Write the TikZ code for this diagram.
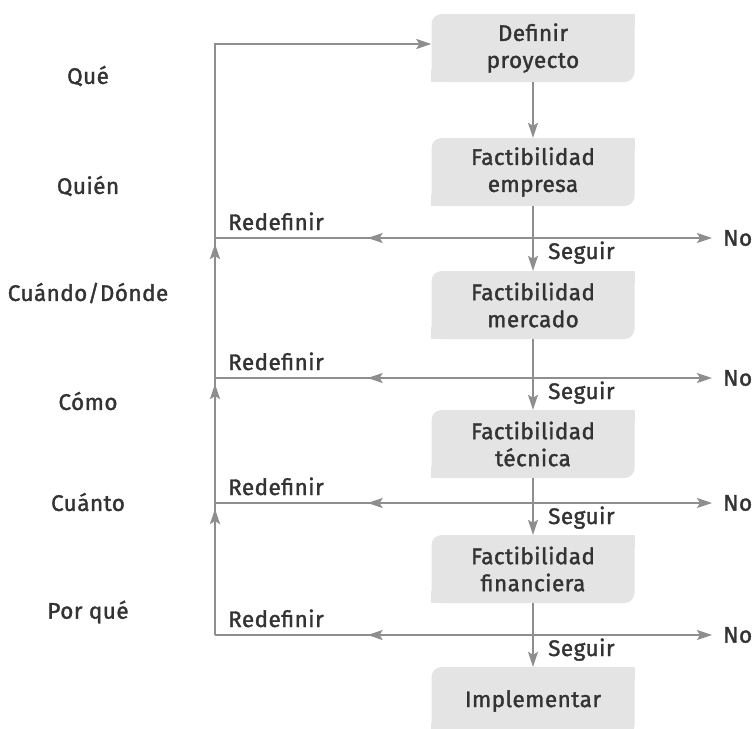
\documentclass[tikz,border=0pt]{standalone}
\usepackage{fontspec}
\setmainfont{Fira Sans}[LetterSpace=2, FakeBold=1.5]
\usepackage{tikz}
\usetikzlibrary{positioning,arrows.meta,decorations.markings}
\definecolor{sgray}{HTML}{8E8E8E}
\definecolor{sfill}{HTML}{E4E4E4}
\definecolor{stext}{HTML}{333333}

\begin{document}
\begin{tikzpicture}[x=1pt, y=-1pt,
  stage/.style={rectangle, rounded corners=10pt, fill=sfill, text=stext, align=center,
    font=\fontsize{22.5}{27}\selectfont, minimum width=203pt, minimum height=68pt, inner sep=0pt},
  lbl/.style={text=stext, font=\fontsize{22.5}{27}\selectfont, inner sep=0pt},
  arr/.style={-{Stealth[length=15pt, width=10pt, inset=3pt]}, line width=1.6pt, color=sgray},
  hline/.style={line width=1.6pt, color=sgray,
    postaction={decorate, decoration={markings,
      mark=at position 0.52 with {\arrow{Stealth[length=15pt, width=10pt, inset=3pt]}}}}},
  vline/.style={line width=2.4pt, color=sgray}
]
\useasboundingbox (0,0) rectangle (754,728);

% stages
\node[stage] (def) at (533,48)  {Definir\\proyecto};
\node[stage] (emp) at (533,172) {Factibilidad\\empresa};
\node[stage] (mer) at (533,305) {Factibilidad\\mercado};
\node[stage] (tec) at (533,444) {Factibilidad\\técnica};
\node[stage] (fin) at (533,569) {Factibilidad\\financiera};
\node[stage] (imp) at (533,701) {Implementar};

% square corners (top right, bottom left)
\foreach \n in {def,emp,mer,tec,fin,imp} {
  \fill[sfill] ([xshift=-12pt,yshift=-12pt]\n.north east) rectangle (\n.north east);
  \fill[sfill] (\n.south west) rectangle ([xshift=12pt,yshift=12pt]\n.south west);
}

% questions
\node[lbl] (q1) at (88,76)  {Qué};
\node[lbl] (q2) at (88,186) {Quién};
\node[lbl] (q3) at (88,293) {Cuándo/Dónde};
\node[lbl] (q4) at (88,401) {Cómo};
\node[lbl] (q5) at (88,502) {Cuánto};
\node[lbl] (q6) at (88,612) {Por qué};

% decision lines
\foreach \i/\y in {1/238,2/378,3/503,4/635} {
  \coordinate (jl\i) at (215,\y);
  \coordinate (jc\i) at (533,\y);
  \node[lbl, anchor=west] (no\i) at (723,\y) {No};
  \node[lbl, anchor=base west] (red\i) at (228,\y-8) {Redefinir};
  \node[lbl, anchor=base west] (seg\i) at (548,\y+21) {Seguir};
  \draw[hline] (jc\i) -- (jl\i);
  \draw[arr, shorten >=11pt] (jc\i) -- (no\i);
}

% main flow
\draw[arr] (def) -- (emp);
\draw[arr] (emp) -- (mer);
\draw[arr] (mer) -- (tec);
\draw[arr] (tec) -- (fin);
\draw[arr] (fin) -- (imp);

% feedback
\draw[vline] (jl4) -- (jl1);
\draw[arr, line width=2.4pt] (jl1) |- ([yshift=4pt]def.west);
\draw[arr, line width=2.4pt] (jl4) -- ([yshift=-6pt]jl3);
\draw[arr, line width=2.4pt] (jl3) -- ([yshift=-6pt]jl2);
\draw[arr, line width=2.4pt] (jl2) -- ([yshift=-6pt]jl1);
\end{tikzpicture}
\end{document}
